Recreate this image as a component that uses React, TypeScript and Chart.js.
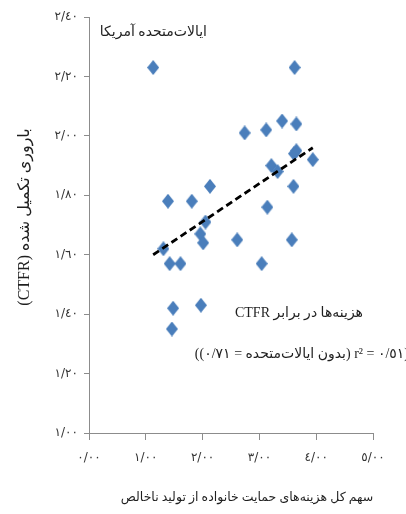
import React, { useEffect, useRef } from 'react';
import { Chart, registerables } from 'chart.js';

Chart.register(...registerables);

// Share of total family-support spending in GDP (x) vs completed fertility CTFR (y)
const spendingShare = [1.13, 3.62, 3.40, 3.65, 2.74, 3.12, 3.65, 3.61, 3.94, 3.21, 3.32, 3.60, 2.13, 1.39, 1.81, 3.14, 2.05, 1.96, 2.01, 2.61, 3.57, 1.31, 1.42, 1.61, 3.04, 1.48, 1.97, 1.46];
const ctfrValues = [2.23, 2.23, 2.05, 2.04, 2.01, 2.02, 1.95, 1.94, 1.92, 1.90, 1.88, 1.83, 1.83, 1.78, 1.78, 1.76, 1.71, 1.67, 1.64, 1.65, 1.65, 1.62, 1.57, 1.57, 1.57, 1.42, 1.43, 1.35];

// linear trend line end points
const trendX = [1.13, 3.94];
const trendY = [1.60, 1.96];

const xTickValues = [0, 1, 2, 3, 4, 5];
const xTickLabels = ['٠/٠٠', '١/٠٠', '٢/٠٠', '٣/٠٠', '٤/٠٠', '٥/٠٠'];
const yTickValues = [1.0, 1.2, 1.4, 1.6, 1.8, 2.0, 2.2, 2.4];
const yTickLabels = ['١/٠٠', '١/٢٠', '١/٤٠', '١/٦٠', '١/٨٠', '٢/٠٠', '٢/٢٠', '٢/٤٠'];

const usLabel = 'ایالات‌متحده آمریکا';
const noteLine1 = 'هزینه‌ها در برابر CTFR';
const noteLine2 = '(٠/٥١ = r² (بدون ایالات‌متحده = ٠/٧١))';
const yTitle = 'باروری تکمیل شده (CTFR)';
const xTitle = 'سهم کل هزینه‌های حمایت خانواده از تولید ناخالص';

const FONT = "'Liberation Serif', 'DejaVu Sans', serif";
const TICK_FONT = "'DejaVu Sans', sans-serif";

function labelFor(values: number[], labels: string[], v: number): string {
  const i = values.findIndex((t) => Math.abs(t - v) < 1e-6);
  return i >= 0 ? labels[i] : '';
}

function makeDiamond(): HTMLCanvasElement {
  const c = document.createElement('canvas');
  c.width = 12;
  c.height = 15;
  const g = c.getContext('2d')!;
  g.fillStyle = '#4A7EBB';
  g.beginPath();
  g.moveTo(6, 0);
  g.lineTo(12, 7.5);
  g.lineTo(6, 15);
  g.lineTo(0, 7.5);
  g.closePath();
  g.fill();
  return c;
}

const textPlugin = {
  id: 'persianTexts',
  afterDraw(chart: any) {
    const ctx = chart.ctx as CanvasRenderingContext2D;
    ctx.save();
    ctx.fillStyle = '#1f1f1f';
    ctx.textBaseline = 'middle';
    (ctx as any).direction = 'rtl';

    ctx.font = `14px ${FONT}`;
    ctx.textAlign = 'right';
    ctx.fillText(usLabel, 207, 32);

    ctx.fillText(noteLine1, 363, 313);
    ctx.fillText(noteLine2, 409, 354);

    ctx.font = `12.5px ${FONT}`;
    ctx.textAlign = 'center';
    ctx.fillText(xTitle, 247, 498);

    ctx.font = `16px ${FONT}`;
    ctx.translate(25, 217);
    ctx.rotate(-Math.PI / 2);
    ctx.fillText(yTitle, 0, 0);
    ctx.restore();
  },
};

export default function App() {
  const ref = useRef<HTMLCanvasElement | null>(null);

  useEffect(() => {
    const canvas = ref.current;
    if (!canvas) return;
    const diamond = makeDiamond();
    const points = spendingShare.map((x, i) => ({ x, y: ctfrValues[i] }));
    const trend = trendX.map((x, i) => ({ x, y: trendY[i] }));
    const axisColor = '#8c8c8c';

    const chart = new Chart(canvas, {
      type: 'scatter',
      data: {
        datasets: [
          {
            label: 'CTFR',
            data: points,
            pointStyle: diamond as any,
            pointRadius: 6,
            backgroundColor: '#4A7EBB',
            borderColor: '#4A7EBB',
            order: 2,
          },
          {
            label: 'trend',
            type: 'line' as any,
            data: trend,
            showLine: true,
            borderColor: '#000000',
            borderWidth: 2.8,
            borderDash: [7, 4],
            pointRadius: 0,
            fill: false,
            order: 1,
          } as any,
        ],
      },
      options: {
        animation: false,
        responsive: false,
        devicePixelRatio: 1,
        layout: { padding: { top: 17, right: 33, left: 0, bottom: 0 } },
        plugins: {
          legend: { display: false },
          tooltip: { enabled: false },
          title: { display: false },
        },
        scales: {
          x: {
            type: 'linear',
            min: 0,
            max: 5,
            afterBuildTicks: (s: any) => {
              s.ticks = xTickValues.map((value) => ({ value }));
            },
            afterFit: (s: any) => {
              s.height = 81;
            },
            ticks: {
              callback: (v: any) => labelFor(xTickValues, xTickLabels, Number(v)),
              font: { family: TICK_FONT, size: 12 },
              color: '#333333',
              padding: 11,
              maxRotation: 0,
              autoSkip: false,
            },
            grid: { drawOnChartArea: false, drawTicks: true, tickLength: 7, color: axisColor },
            border: { color: axisColor, width: 1 },
          },
          y: {
            type: 'linear',
            min: 1,
            max: 2.4,
            afterBuildTicks: (s: any) => {
              s.ticks = yTickValues.map((value) => ({ value }));
            },
            afterFit: (s: any) => {
              s.width = 89;
            },
            ticks: {
              callback: (v: any) => labelFor(yTickValues, yTickLabels, Number(v)),
              font: { family: TICK_FONT, size: 12 },
              color: '#333333',
              padding: 6,
              autoSkip: false,
            },
            grid: { drawOnChartArea: false, drawTicks: true, tickLength: 5, color: axisColor },
            border: { color: axisColor, width: 1 },
          },
        },
      },
      plugins: [textPlugin],
    });

    return () => chart.destroy();
  }, []);

  return (
    <div style={{ position: 'fixed', left: 0, top: 0, width: 406, height: 514, background: '#ffffff' }}>
      <canvas ref={ref} width={406} height={514} style={{ width: 406, height: 514, display: 'block' }} />
    </div>
  );
}
